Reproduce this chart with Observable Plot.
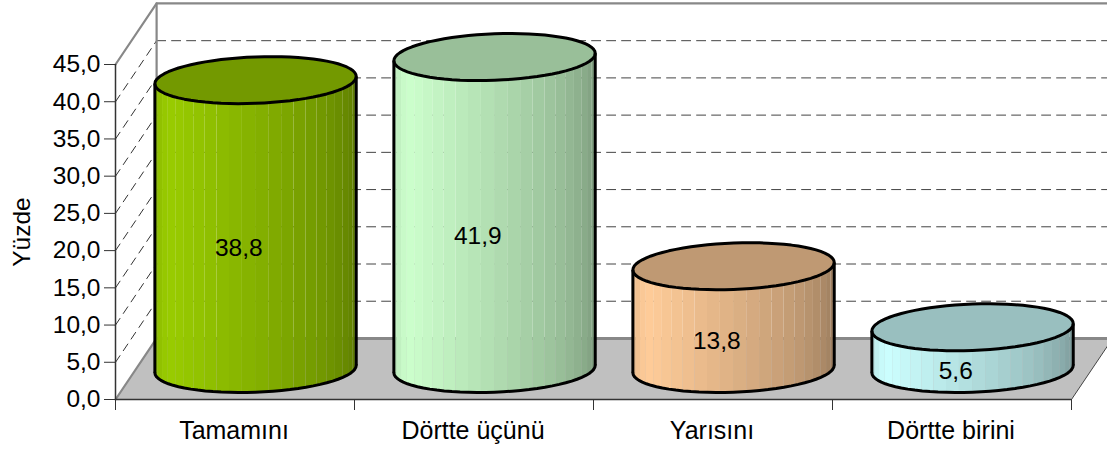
<!DOCTYPE html>
<html><head><meta charset="utf-8">
<style>html,body{margin:0;padding:0;background:#fff}</style>
<script src="https://cdn.jsdelivr.net/npm/d3@7"></script>
<script src="https://cdn.jsdelivr.net/npm/@observablehq/plot@0.6"></script>
</head><body><div id="c"></div>
<script>
const categories = ["Tamamını","Dörtte üçünü","Yarısını","Dörtte birini"];
const values = [38.8,41.9,13.8,5.6];
const labels = ["38,8","41,9","13,8","5,6"];
const baseColors = ["#99cc00","#ccffcc","#ffcc99","#ccffff"];
const yTicks = [0,5,10,15,20,25,30,35,40,45];
const gridValues = [5,10,15,20,25,30,35,40];
const xTicks = [0,1,2,3,4];

// oblique projection of the 3D box, in data units
const depthX = 0.172, depthY = 8.2, radiusX = 0.416, radiusD = 0.385;
const STRIPS = 24;
const px = (c,d) => c + depthX*d;
const py = (v,d) => v + depthY*d;
const pt = (i,v,t) => {
  const d = 0.5 + radiusD*Math.sin(t);
  return {x: px(i+0.5+radiusX*Math.cos(t), d), y: py(v, d)};
};
const t0 = Math.PI + Math.atan2(depthX*radiusD, radiusX);
const shade = f => f < 0.17 ? 0.86 + 0.14*f/0.17 : 1 - 0.42*Math.pow((f-0.17)/0.83,1.25);
const scaled = (col,k) => { const c=d3.rgb(col); return d3.rgb(c.r*k,c.g*k,c.b*k).formatHex(); };

const strips=[], rim=[], sides=[], tops=[];
values.forEach((v,i)=>{
  for(let s=0;s<STRIPS;s++){
    const a=t0+Math.PI*s/STRIPS, b=t0+Math.PI*(s+1)/STRIPS;
    const col=scaled(baseColors[i],shade((s+0.5)/STRIPS));
    for(const t of [a,b]){
      const top=pt(i,v,t), bot=pt(i,0,t);
      strips.push({id:i+"-"+s,x:bot.x,yb:bot.y,yt:top.y,c:col});
    }
  }
  for(let s=0;s<=72;s++) tops.push({i,...pt(i,v,t0+2*Math.PI*s/72)});
  for(let s=0;s<=36;s++) rim.push({i,...pt(i,0,t0+Math.PI*s/36)});
  sides.push({i,a:pt(i,v,t0),b:pt(i,0,t0)});
  sides.push({i,a:pt(i,v,t0+Math.PI),b:pt(i,0,t0+Math.PI)});
});

const floor=[[0,0,0],[0,0,1],[4,0,1],[4,0,0]].map(([c,v,d])=>({x:px(c,d),y:py(v,d)}));
const wallTop=[{x:px(0,0),y:py(45,0)},{x:px(0,1),y:py(45,1)},{x:px(4.2,1),y:py(45,1)}];
const wallLeft=[{x:px(0,1),y:py(45,1)},{x:px(0,1),y:py(0,1)},{x:px(0,0),y:py(0,0)}];
const floorBack=[{x:px(0,1),y:py(0,1)},{x:px(4,1),y:py(0,1)}];
const floorRight=[{x:px(4,0),y:py(0,0)},{x:px(4,1),y:py(0,1)}];
const backGrid=gridValues.flatMap(v=>[{v,x:px(0,1),y:py(v,1)},{v,x:px(4,1),y:py(v,1)}]);
const sideGrid=gridValues.flatMap(v=>[{v,x:px(0,0),y:py(v,0)},{v,x:px(0,1),y:py(v,1)}]);

const font='"Liberation Sans",Arial,sans-serif';
const chart=Plot.plot({
  width:1107,height:450,
  marginLeft:115,marginRight:36,marginTop:64,marginBottom:51,
  style:{fontFamily:font,fontSize:"24.5px",background:"#fff",color:"#000"},
  x:{domain:[0,4],axis:null},
  y:{domain:[0,45],axis:null},
  color:{type:"identity"},
  marks:[
    Plot.line(floor,{x:"x",y:"y",fill:"#c0c0c0",stroke:"none"}),
    Plot.line(backGrid,{x:"x",y:"y",z:"v",stroke:"#444",strokeWidth:1,strokeDasharray:"9,6"}),
    Plot.line(sideGrid,{x:"x",y:"y",z:"v",stroke:"#333",strokeWidth:1,strokeDasharray:"8,6"}),
    Plot.line(wallTop,{x:"x",y:"y",stroke:"#888",strokeWidth:2.2}),
    Plot.line(wallLeft,{x:"x",y:"y",stroke:"#888",strokeWidth:2.2}),
    Plot.line(floorBack,{x:"x",y:"y",stroke:"#888",strokeWidth:3}),
    Plot.line(floorRight,{x:"x",y:"y",stroke:"#444",strokeWidth:1}),
    Plot.ruleX([0],{y1:0,y2:45,stroke:"#333",strokeWidth:1.5}),
    Plot.ruleY([0],{x1:0,x2:4,stroke:"#333",strokeWidth:1.5}),
    Plot.axisY({ticks:yTicks,tickFormat:d=>d.toFixed(1).replace(".",","),tickSize:11,tickPadding:4,
      label:"Yüzde",labelAnchor:"center",labelArrow:"none",labelOffset:103,stroke:"#333"}),
    Plot.axisX({ticks:xTicks,tickSize:11,tickFormat:()=>"",label:null,stroke:"#333"}),
    Plot.text(categories,{x:(d,i)=>i+0.5,y:()=>0,text:d=>d,dx:-1,dy:31,fontSize:25,lineAnchor:"middle",fill:"#000"}),
    Plot.area(strips,{x1:"x",y1:"yb",x2:"x",y2:"yt",z:"id",fill:"c"}),
    ...values.map((v,i)=>Plot.line(tops.filter(d=>d.i===i),{x:"x",y:"y",fill:scaled(baseColors[i],0.75),stroke:"#000",strokeWidth:3})),
    Plot.line(rim,{x:"x",y:"y",z:"i",stroke:"#000",strokeWidth:3}),
    Plot.link(sides,{x1:d=>d.a.x,y1:d=>d.a.y,x2:d=>d.b.x,y2:d=>d.b.y,stroke:"#000",strokeWidth:3}),
    Plot.text(labels,{
      x:(d,i)=>px(i+0.5,0.5-radiusD),
      y:(d,i)=>py(values[i]/2,0.5-radiusD),
      text:d=>d,dx:-1,fill:"#000",lineAnchor:"middle"})
  ]
});
document.getElementById("c").appendChild(chart);
</script></body></html>
